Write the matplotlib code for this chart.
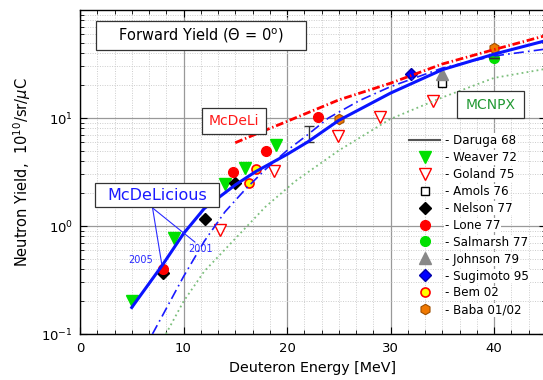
import matplotlib
matplotlib.use('Agg')
import matplotlib.pyplot as plt
from matplotlib.ticker import MultipleLocator, LogLocator, NullFormatter, FixedLocator
from matplotlib.patches import Rectangle

plt.rcParams['font.family'] = ['DejaVu Sans']
plt.rcParams['mathtext.fontset'] = 'dejavusans'

# ---------------- data ----------------
weaver_E = [5.0, 9.1, 14.0, 15.9, 18.9]
weaver_Y = [0.20, 0.77, 2.47, 3.46, 5.6]
goland_E = [13.5, 18.7, 24.9, 29.0, 34.1]
goland_Y = [0.92, 3.2, 6.8, 10.2, 14.4]
amols_E = [35.0]
amols_Y = [21.0]
nelson_E = [8.0, 12.1, 15.0]
nelson_Y = [0.37, 1.16, 2.5]
lone_E = [8.0, 14.8, 18.0, 23.0]
lone_Y = [0.40, 3.13, 4.97, 10.2]
salmarsh_E = [40.0]
salmarsh_Y = [36.0]
johnson_E = [35.0]
johnson_Y = [25.3]
sugimoto_E = [32.0]
sugimoto_Y = [25.3]
bem_E = [16.3, 17.0]
bem_Y = [2.48, 3.36]
baba_E = [25.0, 40.0]
baba_Y = [9.7, 44.5]
daruga_E = [22.1, 40.0]
daruga_Y = [7.1, 36.0]
daruga_lo = [1.1, 0.0]
daruga_hi = [1.3, 0.0]

mcdelicious05_E = [5, 8, 10, 12, 15, 17, 20, 22, 25, 30, 35, 40, 45]
mcdelicious05_Y = [0.176, 0.44, 0.85, 1.45, 2.4, 3.2, 4.6, 6.0, 9.5, 17.0, 28.0, 39.0, 52.0]
mcdelicious01_E = [7, 8, 10, 12, 14, 16, 18, 20, 22, 24, 27, 30, 35, 40, 45]
mcdelicious01_Y = [0.1, 0.15, 0.34, 0.72, 1.35, 2.2, 3.4, 5.0, 7.0, 10.0, 14.5, 19.5, 29.0, 37.5, 43.5]
mcdeli_E = [15, 17, 20, 22.5, 25, 30, 35, 40, 45]
mcdeli_Y = [5.9, 7.1, 9.3, 11.7, 14.7, 21.0, 31.6, 43.0, 58.0]
mcnpx_E = [8.3, 10, 12, 14.5, 17.9, 20.8, 25, 30, 35, 40, 45]
mcnpx_Y = [0.1, 0.2, 0.38, 0.68, 1.5, 2.6, 5.0, 9.8, 15.5, 23.5, 28.5]

xticks = [0, 10, 20, 30, 40]
yticks = [0.1, 1, 10]
ytick_labels = [r'10$^{-1}$', r'10$^{0}$', r'10$^{1}$']

# ---------------- figure ----------------
W, H = 543, 380
fig = plt.figure(figsize=(W / 100, H / 100), dpi=100)


def fx(px):
    return px / W


def fy(py):
    return 1 - py / H


ax = fig.add_axes([fx(80), fy(334), 465.75 / W, (334 - 10) / H])
ax.set_yscale('log')
ax.set_xlim(0, 45)
ax.set_ylim(0.1, 100)

ax.xaxis.set_major_locator(FixedLocator(xticks))
ax.xaxis.set_minor_locator(MultipleLocator(10 / 6))
ax.set_xticklabels([str(t) for t in xticks])
ax.yaxis.set_major_locator(FixedLocator(yticks))
ax.set_yticklabels(ytick_labels)
ax.yaxis.set_minor_locator(LogLocator(base=10, subs=range(2, 10)))
ax.yaxis.set_minor_formatter(NullFormatter())

ax.tick_params(which='both', direction='in', top=True, right=True, labelsize=9.5, colors='black')
ax.tick_params(which='major', length=5, width=0.8)
ax.tick_params(axis='x', which='major', pad=6)
ax.tick_params(axis='y', which='major', pad=5)
ax.tick_params(which='minor', length=3, width=0.6)
for s in ax.spines.values():
    s.set_linewidth(1.0)

ax.set_axisbelow(True)
ax.grid(which='major', color='#999999', lw=0.9, ls='-')
ax.grid(which='minor', color='#cdcdcd', lw=0.7, ls=(0, (1, 1.5)))

ax.set_xlabel('Deuteron Energy [MeV]', fontsize=10.3, labelpad=4)
ax.set_ylabel(r'Neutron Yield,  10$^{10}$/sr/$\mu$C', fontsize=10.5, labelpad=6)

# ---------------- data markers ----------------
ax.plot(weaver_E, weaver_Y, 'v', color='#00e000', ms=8, mec='#00e000', ls='none', zorder=3, label=' - Weaver 72')
ax.plot(goland_E, goland_Y, 'v', mfc='white', mec='#ff0000', mew=1.0, ms=8, ls='none', zorder=3, label=' - Goland 75')
ax.plot(amols_E, amols_Y, 's', mfc='white', mec='black', mew=1.0, ms=5.5, ls='none', zorder=3, label=' - Amols 76')
ax.plot(nelson_E, nelson_Y, 'D', color='black', ms=6, ls='none', zorder=3, label=' - Nelson 77')
ax.plot(lone_E, lone_Y, 'o', color='#ff0000', ms=7, ls='none', zorder=3, label=' - Lone 77')
ax.plot(salmarsh_E, salmarsh_Y, 'o', color='#00e000', ms=7, ls='none', zorder=3, label=' - Salmarsh 77')
ax.plot(johnson_E, johnson_Y, '^', color='#888888', ms=8, ls='none', zorder=3, label=' - Johnson 79')
ax.plot(sugimoto_E, sugimoto_Y, 'D', color='#0000ff', mec='#0000aa', ms=6, ls='none', zorder=3, label=' - Sugimoto 95')
ax.plot(bem_E, bem_Y, 'o', mfc='#ffff00', mec='#ff0000', mew=1.2, ms=6.5, ls='none', zorder=3, label=' - Bem 02')
ax.plot(baba_E, baba_Y, 'h', mfc='#f07800', mec='#a05000', mew=0.8, ms=7.5, ls='none', zorder=3, label=' - Baba 01/02')
ax.errorbar(daruga_E, daruga_Y, yerr=[daruga_lo, daruga_hi], fmt='none', ecolor='#333333',
            elinewidth=1.0, capsize=3.5, capthick=1.0, zorder=3)
daruga_handle, = ax.plot([], [], color='#555555', lw=1.5, label=' - Daruga 68')

# ---------------- calculation curves ----------------
ax.plot(mcdeli_E, mcdeli_Y, color='#ff0000', lw=2.0, ls=(0, (2.8, 1.0, 0.5, 1.0)), zorder=4)
ax.plot(mcdelicious01_E, mcdelicious01_Y, color='#1a1aff', lw=1.2, ls=(0, (6, 2.5, 1, 2.5)), zorder=4)
ax.plot(mcdelicious05_E, mcdelicious05_Y, color='#0a14ff', lw=2.2, ls='-', zorder=5)
ax.plot(mcnpx_E, mcnpx_Y, color='#7cbf7c', lw=1.3, ls=(0, (1, 1.8)), zorder=4)

# ---------------- legend ----------------
handles, labels = ax.get_legend_handles_labels()
order = [' - Daruga 68', ' - Weaver 72', ' - Goland 75', ' - Amols 76', ' - Nelson 77', ' - Lone 77',
         ' - Salmarsh 77', ' - Johnson 79', ' - Sugimoto 95', ' - Bem 02', ' - Baba 01/02']
hmap = dict(zip(labels, handles))
leg = fig.legend([hmap[l] for l in order], [l.strip() for l in order], loc='upper left',
                 bbox_to_anchor=(fx(409), fy(134)), frameon=False, fontsize=8.6,
                 borderpad=0, borderaxespad=0, handlelength=2.6, handletextpad=0.42,
                 labelspacing=0.33, numpoints=1)
for t in leg.get_texts():
    t.set_bbox(dict(facecolor='white', edgecolor='none', pad=0.5))


# ---------------- annotation boxes ----------------
def box(x0, y0, x1, y1, text, color, size):
    r = Rectangle((fx(x0), fy(y1)), fx(x1) - fx(x0), fy(y0) - fy(y1), transform=fig.transFigure,
                  facecolor='white', edgecolor='#333333', lw=0.9, zorder=6)
    fig.add_artist(r)
    fig.text(fx((x0 + x1) / 2), fy((y0 + y1) / 2), text, color=color, fontsize=size,
             ha='center', va='center', zorder=7)


box(95.7, 20.7, 306, 50, r'Forward Yield ($\Theta$ = 0$^{\rm o}$)', 'black', 10.5)
box(201.7, 108.3, 266, 134, 'McDeLi', '#ff1a1a', 10)
box(456.7, 91, 524.3, 118.3, 'MCNPX', '#229933', 10)
box(95, 183.3, 219.3, 207.3, 'McDeLicious', '#1a1aff', 11.5)

# leader lines from the McDeLicious box to the two curves
ax.plot([7.01, 7.89], [1.47, 0.449], color='#2a2aff', lw=0.8, zorder=6, clip_on=False)
ax.plot([7.01, 11.1], [1.47, 0.71], color='#2a2aff', lw=0.8, zorder=6, clip_on=False)
ax.text(5.85, 0.486, '2005', color='#2a2aff', fontsize=7, ha='center', va='center', zorder=6)
ax.text(11.64, 0.607, '2001', color='#2a2aff', fontsize=7, ha='center', va='center', zorder=6)

fig.savefig('out.png', dpi=100)
